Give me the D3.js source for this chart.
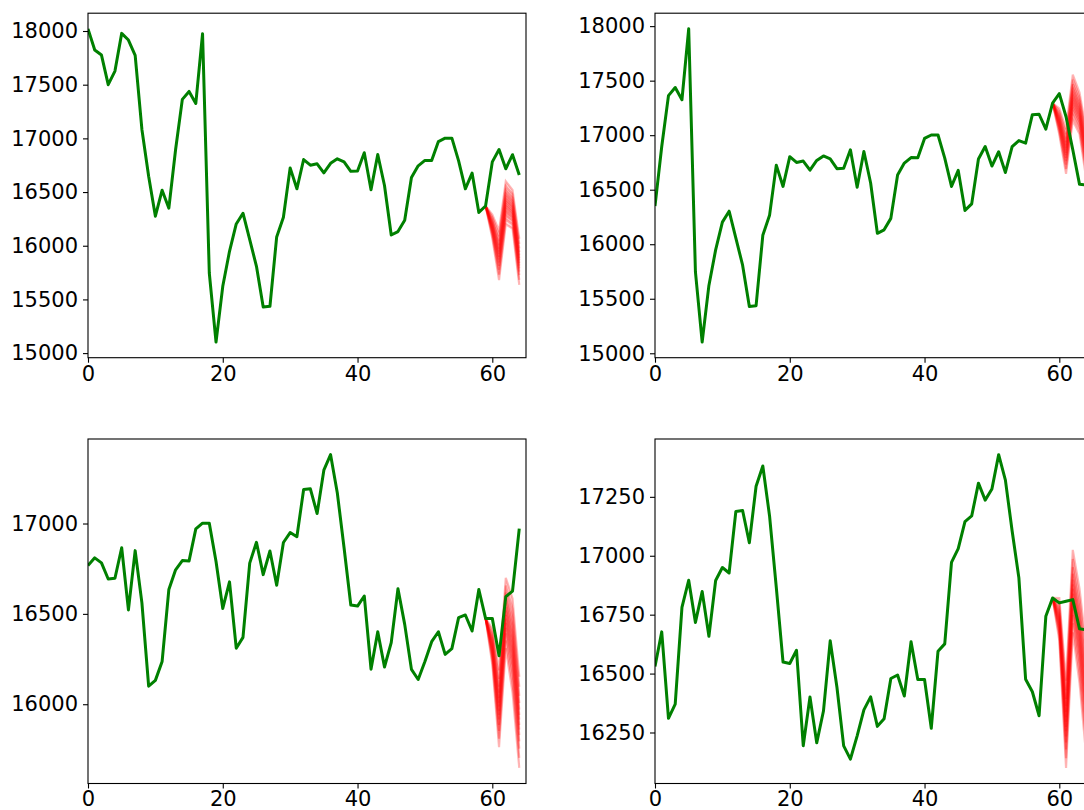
<!DOCTYPE html>
<html>
<head>
<meta charset="utf-8">
<script src="https://cdn.jsdelivr.net/npm/d3@7"></script>
<style>
  body { margin: 0; background: #fff; }
  svg { display: block; }
  text { font-family: "DejaVu Sans", sans-serif; }
</style>
</head>
<body>
<svg id="chart" width="1084" height="810"></svg>
<script>
// Closing values, 121 observations; each panel shows a 65-point window of them.
const closes = [
  18020, 17823, 17776, 17500, 17627, 17978, 17916, 17773, 17083, 16648,
  16275, 16517, 16350, 16896, 17363, 17437, 17325, 17975, 15746, 15103,
  15622, 15948, 16203, 16303, 16057, 15808, 15429, 15436, 16082, 16265,
  16725, 16530, 16803, 16750, 16763, 16679, 16768, 16810, 16782, 16693,
  16697, 16866, 16522, 16850, 16561, 16100, 16132, 16237, 16635, 16744,
  16795, 16793, 16970, 17002, 17002, 16790, 16530, 16677, 16310, 16370,
  16781, 16896, 16717, 16848, 16658, 16895, 16950, 16927, 17188, 17192,
  17055, 17295, 17381, 17169, 16866, 16549, 16543, 16599, 16194, 16401,
  16206, 16341, 16639, 16442, 16193, 16137, 16236, 16346, 16401, 16276,
  16308, 16479, 16494, 16405, 16635, 16475, 16475, 16268, 16595, 16626,
  16972, 17030, 17145, 17169, 17308, 17236, 17283, 17429, 17321, 17105,
  16906, 16476, 16423, 16321, 16743, 16821, 16800, 16807, 16814, 16690,
  16685
];

// Start offset of each panel's window (row-major: top-left, top-right, bottom-left, bottom-right).
const windowStarts = [0, 12, 36, 56];
const windowLength = 65;

// Forecast fan: starts at the last observed step and runs five steps ahead.
const forecastFrom = 59;
const fanMedian = [
  [16370, 16180, 15910, 16400, 16340, 15850],
  [17295, 17125, 16850, 17345, 17200, 16820],
  [16475, 16320, 15975, 16505, 16325, 15900],
  [16821, 16730, 16285, 16850, 16660, 16380]
];
const fanSpread = [
  [0, 110, 230, 200, 180, 215],
  [0, 120, 205, 210, 190, 220],
  [0, 100, 212, 195, 260, 252],
  [0, 90, 185, 175, 200, 230]
];
// Quantile positions of the individual fan paths, as fractions of the outer half-width.
const fanLevels = [-1, -0.78, -0.58, -0.42, -0.28, -0.16, -0.06, 0.06, 0.16, 0.28, 0.42, 0.58, 0.78, 1];
// Nested shaded bands, as fractions of the outer half-width.
const fanBands = [1, 0.75, 0.5];

const xTicks = [0, 20, 40, 60];
const yTicks = [
  [15000, 15500, 16000, 16500, 17000, 17500, 18000],
  [15000, 15500, 16000, 16500, 17000, 17500, 18000],
  [16000, 16500, 17000],
  [16250, 16500, 16750, 17000, 17250]
];

const svg = d3.select("#chart");
const W = 438, H = 344.5;
const colX = [88, 655];
const rowY = [13.2, 439];
const xMax = 65;

windowStarts.forEach((start, p) => {
  const left = colX[p % 2], top = rowY[Math.floor(p / 2)];
  const series = closes.slice(start, start + windowLength).map((v, i) => ({ i, v }));
  const fan = fanMedian[p].map((m, k) => ({ i: forecastFrom + k, m, s: fanSpread[p][k] }));

  // y limits: data extent (history and fan envelope) with a 5% margin
  const lo = Math.min(d3.min(series, d => d.v), d3.min(fan, d => d.m - d.s));
  const hi = Math.max(d3.max(series, d => d.v), d3.max(fan, d => d.m + d.s));
  const pad = (hi - lo) * 0.05;

  const x = d3.scaleLinear().domain([0, xMax]).range([0, W]);
  const y = d3.scaleLinear().domain([lo - pad, hi + pad]).range([H, 0]);

  const g = svg.append("g").attr("transform", `translate(${left},${top})`);

  const clipId = `clip${p}`;
  g.append("clipPath").attr("id", clipId)
    .append("rect").attr("width", W).attr("height", H);
  const plot = g.append("g").attr("clip-path", `url(#${clipId})`);

  // fan bands
  fanBands.forEach(b => {
    plot.append("path")
      .datum(fan)
      .attr("fill", "#ff0000")
      .attr("fill-opacity", 0.13)
      .attr("d", d3.area()
        .x(d => x(d.i))
        .y0(d => y(d.m - b * d.s))
        .y1(d => y(d.m + b * d.s)));
  });

  // fan paths
  fanLevels.forEach(q => {
    plot.append("path")
      .datum(fan)
      .attr("fill", "none")
      .attr("stroke", "#ff0000")
      .attr("stroke-opacity", 0.28)
      .attr("stroke-width", 2.2)
      .attr("d", d3.line().x(d => x(d.i)).y(d => y(d.m + q * d.s)));
  });

  // observed series
  plot.append("path")
    .datum(series)
    .attr("fill", "none")
    .attr("stroke", "#008000")
    .attr("stroke-width", 3)
    .attr("stroke-linejoin", "round")
    .attr("d", d3.line().x(d => x(d.i)).y(d => y(d.v)));

  // axes
  const ax = g.append("g").attr("transform", `translate(0,${H})`)
    .call(d3.axisBottom(x).tickValues(xTicks).tickFormat(d3.format("d")).tickSize(5).tickPadding(4));
  const ay = g.append("g")
    .call(d3.axisLeft(y).tickValues(yTicks[p]).tickFormat(d3.format("d")).tickSize(5).tickPadding(5));
  [ax, ay].forEach(a => {
    a.select(".domain").remove();
    a.selectAll("line").attr("stroke", "#000").attr("stroke-width", 1.1);
    a.selectAll("text").attr("font-size", 21).attr("fill", "#000")
      .attr("font-family", "DejaVu Sans, sans-serif");
  });
  ax.selectAll("text").attr("dy", "0.66em");

  // frame
  g.append("rect")
    .attr("width", W).attr("height", H)
    .attr("fill", "none").attr("stroke", "#000").attr("stroke-width", 1.1);
});
</script>
</body>
</html>
